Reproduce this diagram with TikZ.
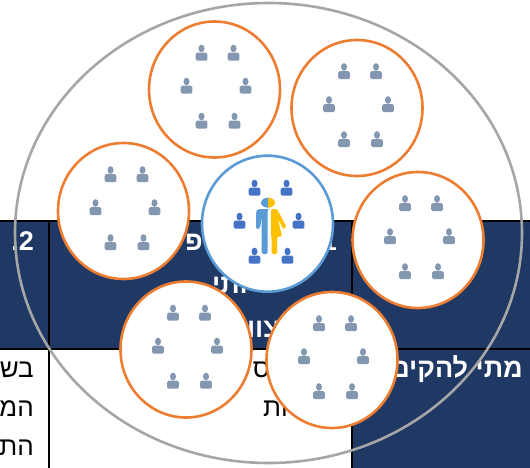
\documentclass[tikz,border=0pt]{standalone}
\usepackage{fontspec}
\usetikzlibrary{shapes.geometric}
\TeXXeTstate=1
\newfontfamily\hebfont[Script=Hebrew]{Liberation Sans}
\definecolor{navy}{HTML}{1F3864}
\definecolor{ringorange}{HTML}{ED7D31}
\definecolor{ringblue}{HTML}{5B9BD5}
\definecolor{ringgrey}{HTML}{A6A6A6}
\definecolor{pgrey}{HTML}{8497B0}
\definecolor{pblue}{HTML}{4472C4}
\definecolor{gold}{HTML}{FFC000}
\tikzset{
  x=1pt,y=-1pt,
  group/.style={ellipse,draw=ringorange,line width=2.6pt,fill=white,minimum width=131pt,minimum height=136pt,inner sep=0pt,outer sep=0pt},
  hub/.style={group,draw=ringblue},
  whole/.style={ellipse,draw=ringgrey,line width=2.6pt,minimum width=507pt,minimum height=460pt,inner sep=0pt,outer sep=0pt},
  headtext/.style={font=\hebfont\bfseries\fontsize{27}{27}\selectfont,text=white,inner sep=0pt},
  bodytext/.style={font=\hebfont\fontsize{26}{26}\selectfont,text=black,inner sep=0pt},
  tablerule/.style={line width=2pt,draw=black},
  person/.pic={
    \fill[pic actions] (0,-6) ellipse[x radius=3,y radius=3.8];
    \fill[pic actions,rounded corners=1.5pt] (-5.8,6.2) -- (-5.8,-1.8) -- (5.8,-1.8) -- (5.8,6.2) -- cycle;
  },
}
\newcommand{\peoplering}[3]{%
  \foreach \a/\b in {-13/-35,19/-35,-28/-2,31/-2,-13/33,20/33}
    \pic[fill=#3] at ([shift={(\a,\b)}]#1,#2) {person};
}
\begin{document}
\begin{tikzpicture}
\useasboundingbox (0,0) rectangle (530,468);
% table
\fill[navy] (0,221) rectangle (530,349);
\fill[navy] (352,349) rectangle (530,468);
\coordinate (tl) at (0,221); \coordinate (tr) at (530,221);
\coordinate (ml) at (0,349); \coordinate (mr) at (530,349);
\coordinate (at) at (48.5,221); \coordinate (ab) at (48.5,468);
\coordinate (bt) at (352,221); \coordinate (bb) at (352,468);
\draw[tablerule] (tl) -- (tr);
\draw[tablerule] (ml) -- (mr);
\draw[tablerule] (at) -- (ab);
\draw[tablerule] (bt) -- (bb);
% table text
\node[headtext,anchor=base east] (h2) at (34,250) {\beginR 2.\endR};
\node[headtext,anchor=base east] (h1) at (337,250) {\beginR 1.\endR};
\node[headtext,anchor=base east] (ha) at (203,250) {\beginR פ\endR};
\node[headtext,anchor=base west] (hb) at (212,293.5) {\beginR ותי\endR};
\node[headtext,anchor=base east] (hc) at (280,337) {\beginR צוות\endR};
\node[headtext,anchor=base east] (hd) at (523,377) {\beginR מתי להקים\endR};
\node[bodytext,anchor=base east] (b1) at (34,377) {\beginR בש\endR};
\node[bodytext,anchor=base east] (b2) at (34,416) {\beginR המ\endR};
\node[bodytext,anchor=base east] (b3) at (34,455) {\beginR הת\endR};
\node[bodytext,anchor=base east] (b4) at (270,377) {\beginR ס\endR};
\node[bodytext,anchor=base east] (b5) at (288,416) {\beginR ות\endR};
% rings
\node[whole] (all) at (268.5,233) {};
\node[group] (g1) at (214.5,89.5) {};
\node[group] (g2) at (357,108) {};
\node[group] (g3) at (123.5,211) {};
\node[group] (g4) at (418,240) {};
\node[group] (g5) at (186,349.5) {};
\node[group] (g6) at (332,360) {};
\node[hub] (c) at (267.5,223.7) {};
\peoplering{214.5}{89.5}{pgrey}
\peoplering{357}{108}{pgrey}
\peoplering{123.5}{211}{pgrey}
\peoplering{418}{240}{pgrey}
\peoplering{186}{349.5}{pgrey}
\peoplering{332}{360}{pgrey}
\peoplering{267.5}{224.5}{pblue}
% central figure
\fill[ringblue] (268,207.7) arc[start angle=90,end angle=270,x radius=7,y radius=5] -- cycle;
\fill[gold] (268,207.7) arc[start angle=90,end angle=-90,x radius=7,y radius=5] -- cycle;
\fill[ringblue,rounded corners=2pt] (268,209) -- (258,209) -- (256,211) -- (256,229) -- (260,229) -- (261.7,216) -- (261.7,254) -- (267.7,254) -- (267.7,209) -- cycle;
\fill[gold,rounded corners=1.5pt] (271,209) -- (277,209) -- (286.5,227) -- (283.5,229.5) -- (278,219) -- (282,236.7) -- (277,236.7) -- (277,254) -- (271.7,254) -- (271.7,236.7) -- (271,236.7) -- cycle;
\end{tikzpicture}
\end{document}
